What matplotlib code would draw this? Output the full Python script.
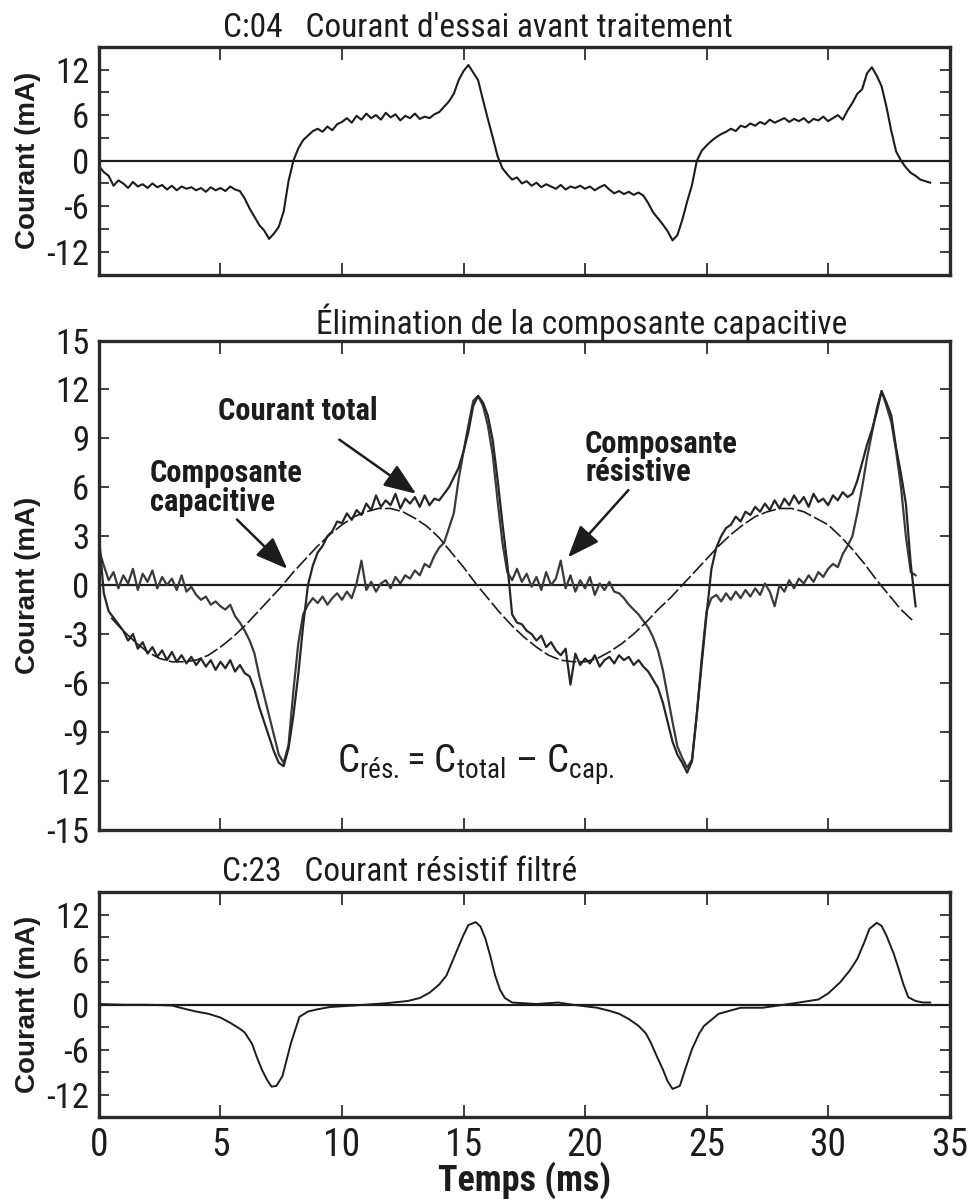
import matplotlib
matplotlib.use("Agg")
import matplotlib.pyplot as plt
import numpy as np
from matplotlib import font_manager

# --- data (time in ms, current in mA) ---
STEP = 0.2

# C:04 raw test current (top panel), sampled every 0.2 ms from t=0
c04_vals = [
    -0.7, -1.5, -2.0, -3.3, -2.6,
    -3.0, -3.6, -2.8, -3.4, -3.1,
    -3.6, -3.0, -3.5, -3.2, -3.8,
    -3.3, -3.9, -3.4, -3.7, -3.5,
    -3.9, -3.6, -4.1, -3.5, -3.9,
    -3.6, -4.0, -3.4, -3.8, -4.0,
    -5.0, -6.3, -7.4, -8.5, -9.2,
    -10.3, -9.6, -8.7, -6.7, -2.7,
    0.0, 1.6, 2.7, 3.3, 3.9,
    4.2, 3.8, 4.5, 4.0, 4.8,
    5.1, 5.6, 5.0, 5.9, 5.4,
    6.2, 5.6, 6.0, 5.4, 6.3,
    5.7, 6.1, 5.3, 5.9, 5.6,
    6.2, 5.5, 5.8, 5.6, 6.1,
    6.4, 7.1, 7.8, 8.8, 10.6,
    11.8, 12.6, 11.6, 10.6, 8.0,
    5.5, 3.1, 0.6, -1.0, -1.8,
    -2.5, -2.2, -3.0, -2.7, -3.3,
    -2.9, -3.5, -3.1, -3.4, -3.7,
    -3.2, -3.8, -3.4, -3.6, -3.3,
    -3.7, -3.4, -3.9, -3.5, -3.2,
    -3.8, -4.3, -4.0, -4.4, -4.1,
    -4.5, -4.2, -4.6, -5.6, -6.8,
    -7.6, -8.4, -9.3, -10.5, -9.8,
    -7.8, -5.4, -3.2, 0.0, 1.3,
    2.0, 2.6, 3.1, 3.5, 3.8,
    4.2, 3.9, 4.6, 4.4, 4.9,
    4.6, 5.1, 4.8, 5.4, 5.0,
    5.3, 5.6, 5.1, 5.5, 5.2,
    5.6, 5.0, 5.5, 5.3, 5.8,
    5.2, 5.6, 6.0, 5.4, 6.6,
    7.6, 8.8, 9.4, 11.5, 12.3,
    11.2, 9.8, 7.1, 3.9, 1.2,
    0.0, -0.9, -1.6, -2.0, -2.5,
    -2.7, -2.9,
]

# middle panel: total current, every 0.2 ms from t=0
total_vals = [
    3.0, -0.5, -1.6, -2.0, -2.4,
    -2.8, -3.4, -3.0, -3.9, -3.5,
    -4.2, -3.8, -4.4, -4.0, -4.6,
    -4.1, -4.7, -4.3, -4.8, -4.4,
    -4.9, -4.5, -5.0, -4.6, -5.2,
    -4.7, -5.1, -4.6, -5.3, -4.9,
    -5.4, -5.6, -6.4, -7.5, -8.4,
    -9.3, -10.2, -10.9, -11.1, -10.0,
    -8.0, -5.5, -2.5, 0.0, 1.2,
    2.0, 2.4, 3.0, 3.3, 3.9,
    3.8, 4.4, 4.0, 4.6, 4.3,
    5.0, 4.6, 5.5, 4.8, 5.2,
    4.9, 5.6, 4.7, 5.3, 5.0,
    5.4, 4.8, 5.5, 4.9, 5.3,
    5.2, 5.6, 6.0, 6.6, 7.2,
    8.2, 9.4, 11.0, 11.6, 11.2,
    10.4, 8.9, 6.5, 3.8, 1.3,
    -1.8, -2.3, -2.4, -2.8, -3.0,
    -3.4, -3.1, -3.8, -3.5, -4.0,
    -4.3, -3.9, -6.1, -4.2, -4.9,
    -4.5, -4.8, -4.3, -5.0, -4.6,
    -4.4, -4.8, -4.3, -4.6, -4.4,
    -4.9, -4.6, -5.0, -5.3, -5.8,
    -6.3, -7.2, -8.4, -9.6, -10.4,
    -10.9, -11.5, -10.8, -7.9, -4.8,
    -1.8, 1.0, 2.3, 3.0, 3.5,
    3.7, 4.2, 3.9, 4.5, 4.3,
    4.8, 4.5, 5.0, 4.6, 5.2,
    4.7, 5.3, 4.9, 5.5, 5.0,
    5.4, 4.8, 5.6, 5.1, 5.3,
    4.9, 5.5, 5.2, 5.7, 5.4,
    5.6, 6.4, 7.5, 8.6, 9.5,
    10.6, 11.9, 11.2, 10.4, 8.4,
    6.8, 5.0, 1.3, -1.3,
]

# middle panel: resistive component, every 0.2 ms from t=0
resist_vals = [
    2.2, 1.2, 0.3, 0.8, -0.2,
    0.6, 0.1, 1.0, -0.3, 0.7,
    0.2, 0.9, -0.2, 0.5, 0.0,
    0.4, -0.3, 0.6, -0.4, -0.1,
    -0.6, -0.9, -0.7, -1.2, -1.0,
    -1.3, -1.5, -1.2, -1.9, -2.3,
    -2.8, -3.4, -4.2, -5.6, -6.8,
    -8.0, -9.2, -10.4, -10.9, -9.8,
    -6.5, -3.6, -1.8, -1.2, -0.8,
    -1.1, -0.7, -1.2, -0.8, -0.5,
    -0.9, -0.4, -0.8, 0.1, 1.5,
    -0.3, 0.2, -0.4, 0.1, 0.3,
    -0.2, 0.5, 0.1, 0.6, 0.4,
    0.9, 0.6, 1.3, 1.1, 1.8,
    2.3, 2.6, 3.5, 4.4, 6.5,
    8.2, 9.8, 11.3, 11.6, 11.0,
    9.8, 8.0, 5.2, 2.6, 0.8,
    0.3, 1.0, 0.2, 0.7, -0.1,
    0.5, -0.3, 0.8, 0.0, 0.4,
    1.5, -0.2, 0.6, -0.4, 0.3,
    -0.2, 0.5, -0.6, 0.1, -0.3,
    0.2, -0.4, -0.5, -0.8, -1.2,
    -1.5, -1.8, -2.2, -2.6, -3.2,
    -4.0, -5.2, -6.8, -8.4, -9.9,
    -10.6, -11.2, -10.7, -7.9, -4.5,
    -1.6, -0.8, -0.6, -1.0, -0.5,
    -0.9, -0.4, -0.8, -0.3, -0.7,
    -0.2, -0.6, 0.1, -0.4, -1.3,
    0.0, -0.4, 0.3, -0.2, 0.4,
    0.1, 0.6, 0.2, 0.8, 0.5,
    1.0, 1.3, 1.1, 1.9, 2.4,
    3.0, 4.4, 6.0, 7.8, 9.3,
    10.8, 11.9, 11.0, 10.0, 8.2,
    6.0, 3.0, 0.8, 0.6,
]

# middle panel: capacitive component (smooth)
cap_t = [0.5, 1.0, 1.5, 2.0, 2.5, 3.0, 3.5, 4.0, 4.5, 5.0, 5.5, 6.0, 6.5, 7.0,
         7.5, 8.0, 8.5, 9.0, 9.5, 10.0, 10.5, 11.0, 11.5, 12.0, 12.5, 13.0,
         13.5, 14.0, 14.5, 15.0, 15.5, 16.0, 16.5, 17.0, 17.5, 18.0, 18.5,
         19.0, 19.5, 20.0, 20.5, 21.0, 21.5, 22.0, 22.5, 23.0, 23.5, 24.0,
         24.5, 25.0, 25.5, 26.0, 26.5, 27.0, 27.5, 28.0, 28.5, 29.0, 29.5,
         30.0, 30.5, 31.0, 31.5, 32.0, 32.5, 33.0, 33.5]
cap_vals = [-2.0, -2.8, -3.5, -4.1, -4.5, -4.7, -4.7, -4.6, -4.3, -3.8, -3.2,
            -2.5, -1.7, -0.9, -0.1, 0.8, 1.6, 2.4, 3.1, 3.7, 4.2, 4.5, 4.7,
            4.7, 4.5, 4.1, 3.6, 2.9, 2.0, 1.1, 0.1, -0.8, -1.7, -2.5, -3.2,
            -3.8, -4.3, -4.6, -4.7, -4.7, -4.5, -4.1, -3.6, -3.0, -2.3, -1.5,
            -0.8, 0.0, 0.8, 1.6, 2.4, 3.1, 3.7, 4.2, 4.5, 4.7, 4.7, 4.5, 4.1,
            3.7, 3.0, 2.2, 1.3, 0.3, -0.6, -1.5, -2.2]

# C:23 filtered resistive current (bottom panel)
filt_t = [0, 1, 2, 3, 3.6, 4.0, 4.5, 5.0, 5.4, 5.8, 6.0, 6.3, 6.5, 6.7, 6.9,
          7.1, 7.3, 7.55, 7.9, 8.25, 8.6, 9.0, 9.5, 10.5, 11.8, 12.7, 13.2,
          13.6, 14.0, 14.3, 14.7, 15.0, 15.2, 15.5, 15.7, 15.9, 16.1, 16.3,
          16.5, 16.7, 17.0, 18.0, 18.9, 19.5, 20.5, 21.0, 21.4, 21.8, 22.2,
          22.5, 22.7, 23.0, 23.2, 23.4, 23.6, 23.9, 24.1, 24.4, 24.7, 24.9,
          25.5, 26.4, 27.3, 28.6, 29.6, 30.0, 30.5, 30.9, 31.2, 31.5, 31.7,
          32.0, 32.2, 32.4, 32.7, 32.9, 33.1, 33.3, 33.6, 33.9, 34.2]
filt_vals = [0.1, 0.0, 0.0, -0.1, -0.6, -0.9, -1.2, -1.7, -2.4, -3.2, -3.7,
             -5.2, -7.0, -8.6, -9.9, -10.9, -10.8, -9.5, -5.1, -1.6, -0.9,
             -0.6, -0.3, -0.1, 0.2, 0.5, 0.9, 1.6, 2.7, 3.9, 7.0, 9.3, 10.6,
             11.0, 10.4, 8.8, 6.5, 3.9, 2.0, 0.9, 0.3, 0.1, 0.3, 0.0, -0.4,
             -0.8, -1.2, -1.9, -2.8, -3.8, -5.0, -7.2, -8.6, -10.2, -11.2,
             -10.8, -8.8, -5.9, -3.8, -2.8, -1.2, -0.4, -0.4, 0.2, 0.7, 1.5,
             3.0, 4.6, 6.1, 8.4, 10.1, 10.9, 10.5, 9.2, 6.8, 4.8, 2.7, 1.0,
             0.5, 0.3, 0.3]

x_ticks = [0, 5, 10, 15, 20, 25, 30, 35]
y_ticks_small = [-12, -9, -6, -3, 0, 3, 6, 9, 12]
y_labels_small = ["-12", "", "-6", "", "0", "", "6", "", "12"]
y_ticks_mid = [-15, -12, -9, -6, -3, 0, 3, 6, 9, 12, 15]
y_labels_mid = ["-15", "12", "-9", "-6", "-3", "0", "3", "6", "9", "12", "15"]

# --- font: prefer a narrow face like the original lettering ---
available = {f.name for f in font_manager.fontManager.ttflist}
FONT = "DejaVu Sans"
for cand in ["Roboto Condensed", "Liberation Sans Narrow", "Open Sans Condensed"]:
    if cand in available:
        FONT = cand
        break
LABEL_FONT = "Liberation Sans" if "Liberation Sans" in available else "DejaVu Sans"
plt.rcParams["font.family"] = [FONT, "DejaVu Sans"]
plt.rcParams["mathtext.fontset"] = "custom"
plt.rcParams["mathtext.rm"] = FONT

INK = "#1c1c1c"

fig = plt.figure(figsize=(9.7, 11.99), dpi=100)
ax_top = fig.add_axes([0.102, 0.771, 0.877, 0.190])
ax_mid = fig.add_axes([0.102, 0.308, 0.877, 0.408])
ax_bot = fig.add_axes([0.102, 0.068, 0.877, 0.188])


def style(ax, yticks, ylabels, show_x):
    ax.set_xlim(0, 35)
    ax.set_ylim(-15, 15)
    ax.axhline(0, color=INK, lw=1.6, zorder=1)
    for s in ax.spines.values():
        s.set_linewidth(2.4)
        s.set_color("#2a2a2a")
    ax.set_yticks(yticks)
    ax.set_yticklabels(ylabels)
    ax.set_xticks(x_ticks)
    ax.set_xticklabels([str(v) for v in x_ticks] if show_x else [])
    ax.tick_params(axis="y", direction="in", left=True, right=True, length=7,
                   width=1.2, labelsize=25, pad=7, colors=INK)
    ax.tick_params(axis="x", direction="in", top=True, bottom=True, length=9,
                   width=1.2, labelsize=27, pad=7, colors=INK)
    ax.set_ylabel("Courant (mA)", fontsize=20, fontweight="bold", color=INK,
                  family=LABEL_FONT, labelpad=4)


t_c04 = STEP * np.arange(len(c04_vals))
t_tot = STEP * np.arange(len(total_vals))
t_res = STEP * np.arange(len(resist_vals))

# top panel
style(ax_top, y_ticks_small, y_labels_small, False)
ax_top.plot(t_c04, c04_vals, color=INK, lw=1.5)

# middle panel
style(ax_mid, y_ticks_mid, y_labels_mid, False)
ax_mid.plot(t_res, resist_vals, color="#3a3a3a", lw=1.6)
ax_mid.plot(t_tot, total_vals, color="#262626", lw=1.6)
ax_mid.plot(cap_t, cap_vals, color=INK, lw=1.2, dashes=(9, 2))

arrow = dict(arrowstyle="-|>,head_length=0.9,head_width=0.35", color=INK, lw=1.8)
ax_mid.annotate("Courant total", xy=(13.05, 5.6), xytext=(8.2, 10.7),
                fontsize=22, fontweight="bold", ha="center", va="center",
                color=INK, arrowprops=dict(arrow, shrinkA=14, shrinkB=0))
ax_mid.annotate("Composante\ncapacitive", xy=(7.75, 1.0), xytext=(2.1, 6.0),
                fontsize=22, fontweight="bold", ha="left", va="center",
                linespacing=0.95, color=INK,
                arrowprops=dict(arrow, shrinkA=0, shrinkB=0,
                                relpos=(0.55, 0.0)))
ax_mid.annotate("Composante\nrésistive", xy=(19.3, 1.7), xytext=(20.0, 7.8),
                fontsize=22, fontweight="bold", ha="left", va="center",
                linespacing=0.95, color=INK,
                arrowprops=dict(arrow, shrinkA=0, shrinkB=0,
                                relpos=(0.3, 0.0)))
ax_mid.text(9.8, -11.0,
            r"C$_{\mathregular{rés.}}$= C$_{\mathregular{total}}$ – C$_{\mathregular{cap.}}$",
            fontsize=28, ha="left", va="center", color=INK)

# bottom panel
style(ax_bot, y_ticks_small, y_labels_small, True)
ax_bot.plot(filt_t, filt_vals, color=INK, lw=1.4)
ax_bot.set_xlabel("Temps (ms)", fontsize=26, fontweight="bold", color=INK,
                  labelpad=-2)

# titles
fig.text(0.493, 0.977, "C:04   Courant d'essai avant traitement",
         fontsize=24, ha="center", va="center", color=INK)
fig.text(0.600, 0.731, "Élimination de la composante capacitive",
         fontsize=24, ha="center", va="center", color=INK)
fig.text(0.412, 0.273, "C:23   Courant résistif filtré",
         fontsize=24, ha="center", va="center", color=INK)

fig.savefig("out.png", dpi=100, facecolor="white")
